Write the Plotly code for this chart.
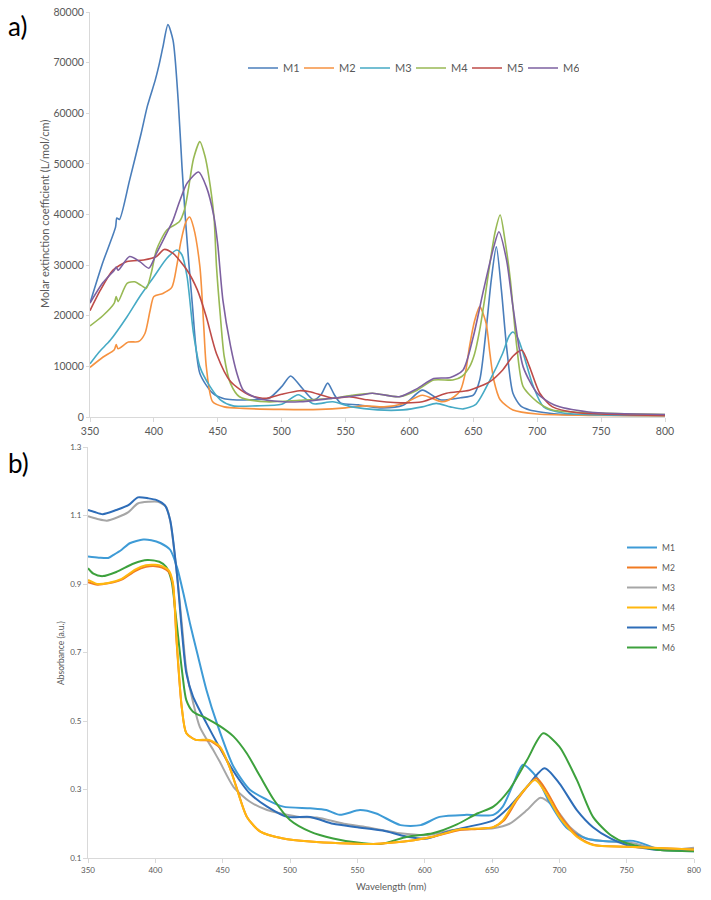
import plotly.graph_objects as go

# ---------------- Panel a) molar extinction coefficient ----------------
a_names = ["M1", "M2", "M3", "M4", "M5", "M6"]
a_colors = ["#4A7EBB", "#F69240", "#46AAC5", "#98B954", "#BE4B48", "#7D60A0"]

a_M1_wl = [350, 360, 370, 371, 373, 381, 390, 395, 401, 404, 407, 411, 415, 419, 422, 425, 430, 436, 446,
           455, 462, 475, 490, 500, 507, 515, 525, 531, 536, 541, 546, 560, 577, 595, 610, 624, 640, 650,
           655, 660, 664, 668, 672, 676, 681, 687, 694, 705, 720, 750, 800]
a_M1 = [22500, 30500, 37500, 39300, 39000, 46800, 56000, 61500, 66500, 69500, 73000, 77500, 74400, 62600,
        49400, 38000, 22500, 8600, 4700, 3600, 3400, 3400, 3700, 6000, 8100, 6000, 3400, 4500, 6700, 4500,
        2800, 2400, 1800, 2300, 5300, 3400, 3800, 4300, 7300, 17200, 27000, 33600, 25000, 13900, 4700,
        2200, 1400, 900, 500, 400, 300]

a_M2_wl = [350, 360, 369, 370.5, 372, 380, 388, 393, 397, 400, 407, 414, 418, 421, 425, 428, 431, 436,
           439, 441, 446, 455, 470, 500, 530, 550, 565, 580, 595, 610, 626, 635, 640, 644, 647, 651, 655,
           660, 663, 666, 671, 681, 700, 750, 800]
a_M2 = [9800, 11800, 13300, 14300, 13500, 14800, 14900, 16500, 21000, 23800, 24400, 25600, 30000, 34500,
        38500, 39500, 37500, 29700, 18000, 10000, 3000, 2000, 1700, 1500, 1500, 1800, 2200, 2000, 2600,
        4300, 3000, 4000, 5300, 9000, 13900, 19000, 21800, 18500, 12500, 7300, 3400, 1400, 600, 300, 200]

a_M3_wl = [350, 357, 366, 379, 389, 400, 410, 418, 422, 426, 431, 436, 444, 452, 462, 480, 500, 513, 525,
           540, 555, 575, 595, 610, 621, 632, 642, 652, 663, 673, 678, 681, 685, 689, 697, 705, 720, 750, 800]
a_M3 = [10500, 12800, 15200, 19800, 23800, 27700, 31300, 33000, 32000, 27700, 16500, 9900, 6000, 3400,
        2200, 2200, 2500, 4400, 2600, 3000, 2000, 1400, 1400, 2000, 2700, 2000, 1600, 2500, 7300, 12600,
        16000, 16800, 15500, 12600, 6000, 2000, 800, 400, 300]

a_M4_wl = [350, 360, 369, 370.5, 372, 379, 385, 390, 394, 398, 402, 410, 420, 424, 427, 431, 436, 440,
           443, 447, 449, 452, 455, 460, 467, 488, 514, 540, 555, 571, 592, 606, 619, 634, 641, 647, 651,
           655, 659, 663, 667, 671, 675, 679, 684, 689, 700, 712, 750, 800]
a_M4 = [18000, 20000, 22500, 23800, 22800, 26400, 26700, 26000, 25400, 28500, 33000, 36900, 38600, 41000,
        45000, 51000, 54400, 51500, 47500, 39600, 29700, 20000, 12000, 6600, 4000, 3000, 3300, 3700, 4300,
        4700, 4000, 5300, 7300, 7300, 8000, 9900, 12500, 17200, 23500, 30400, 36500, 39900, 34500, 27000,
        13900, 6000, 3000, 1400, 800, 500]

a_M5_wl = [350, 358, 368, 379, 392, 402, 408, 415, 426, 434, 441, 449, 460, 475, 488, 500, 514, 522, 540,
           553, 567, 593, 610, 629, 647, 663, 673, 681, 688, 694, 702, 712, 730, 800]
a_M5 = [21000, 25000, 29000, 30700, 31000, 31700, 33100, 32300, 29000, 25100, 19800, 12500, 7000, 4300,
        3700, 4500, 5200, 5000, 3700, 4000, 3400, 2800, 3000, 4700, 5300, 7000, 9300, 12000, 13200, 9900,
        4700, 2000, 900, 300]

a_M6_wl = [350, 360, 369, 370.5, 372, 381, 389, 396, 402, 410, 415, 420, 426, 435, 441, 447, 450, 454, 460,
           465, 470, 481, 501, 514, 540, 561, 571, 592, 606, 619, 632, 642, 650, 658, 666, 670, 676, 681,
           689, 700, 713, 740, 800]
a_M6 = [22500, 26500, 29000, 29600, 29000, 31700, 30700, 29400, 32300, 36300, 38900, 42500, 46200, 48400,
        45500, 39600, 34000, 23100, 14000, 8600, 5300, 3700, 3000, 3000, 3700, 4300, 4700, 4000, 5600,
        7600, 7800, 9300, 15900, 25100, 33600, 36600, 31000, 21800, 9900, 4700, 2400, 1000, 500]

# ---------------- Panel b) absorbance ----------------
b_names = ["M1", "M2", "M3", "M4", "M5", "M6"]
b_colors = ["#3E9BD6", "#F07A22", "#A6A6A6", "#FFB70F", "#2E6DB8", "#3DA13D"]

b_M1_wl = [350, 358, 365, 369, 375, 381, 391, 397, 404, 411, 416, 421, 426, 431, 438, 446, 458, 470, 483,
           495, 515, 527, 537, 552, 564, 582, 597, 611, 631, 651, 658, 666, 673, 683, 693, 705, 720, 738,
           755, 775, 800]
b_M1 = [0.980, 0.977, 0.976, 0.985, 1.000, 1.019, 1.030, 1.028, 1.019, 1.000, 0.950, 0.870, 0.780, 0.700,
        0.590, 0.490, 0.367, 0.300, 0.270, 0.250, 0.245, 0.240, 0.226, 0.240, 0.230, 0.196, 0.196, 0.220,
        0.226, 0.226, 0.250, 0.318, 0.372, 0.337, 0.260, 0.190, 0.157, 0.148, 0.150, 0.125, 0.120]

b_M2_wl = [350, 357, 365, 375, 385, 393, 400, 405, 410, 413, 415.8, 419.6, 423, 430, 440, 448, 455, 460,
           468, 478, 495, 515, 537, 562, 577, 592, 606, 626, 639, 651, 659, 669, 683, 691, 701, 714, 726,
           750, 800]
b_M2 = [0.905, 0.898, 0.902, 0.913, 0.938, 0.950, 0.952, 0.948, 0.935, 0.900, 0.730, 0.540, 0.465, 0.445,
        0.443, 0.422, 0.367, 0.310, 0.220, 0.177, 0.157, 0.148, 0.143, 0.141, 0.145, 0.152, 0.162, 0.182,
        0.185, 0.190, 0.210, 0.272, 0.333, 0.292, 0.222, 0.162, 0.138, 0.133, 0.125]

b_M3_wl = [350, 357, 364, 372, 380, 387, 395, 402, 408, 411, 416, 420, 423, 428, 433, 443, 448, 458, 470,
           483, 507, 520, 540, 557, 582, 602, 621, 640, 651, 663, 676, 686, 696, 708, 720, 738, 755, 775, 800]
b_M3 = [1.098, 1.090, 1.085, 1.095, 1.110, 1.135, 1.140, 1.140, 1.125, 1.085, 0.930, 0.770, 0.650, 0.555,
        0.483, 0.415, 0.380, 0.308, 0.265, 0.240, 0.220, 0.218, 0.200, 0.190, 0.172, 0.167, 0.182, 0.185,
        0.187, 0.200, 0.240, 0.276, 0.250, 0.190, 0.157, 0.148, 0.143, 0.123, 0.130]

b_M4_wl = [350, 357, 365, 375, 385, 393, 400, 405, 410, 413, 415.8, 419.6, 423, 430, 440, 448, 455, 460,
           468, 478, 495, 515, 537, 562, 577, 592, 606, 626, 639, 651, 658, 668, 682, 690, 700, 713, 725,
           750, 800]
b_M4 = [0.912, 0.900, 0.903, 0.915, 0.942, 0.955, 0.956, 0.952, 0.940, 0.905, 0.737, 0.542, 0.464, 0.445,
        0.445, 0.425, 0.367, 0.308, 0.220, 0.177, 0.157, 0.148, 0.143, 0.141, 0.145, 0.152, 0.162, 0.184,
        0.186, 0.190, 0.210, 0.270, 0.328, 0.289, 0.220, 0.162, 0.138, 0.133, 0.125]

b_M5_wl = [350, 355, 361, 371, 380, 387, 395, 401, 407, 411, 416, 420, 423, 428, 438, 453, 462, 470, 483,
           498, 515, 532, 550, 569, 587, 602, 616, 631, 651, 663, 676, 689, 700, 713, 725, 738, 750, 775, 800]
b_M5 = [1.116, 1.110, 1.104, 1.116, 1.130, 1.153, 1.150, 1.145, 1.130, 1.087, 0.930, 0.750, 0.640, 0.571,
        0.493, 0.386, 0.330, 0.289, 0.250, 0.220, 0.220, 0.200, 0.190, 0.180, 0.162, 0.157, 0.175, 0.190,
        0.210, 0.250, 0.308, 0.362, 0.318, 0.240, 0.190, 0.157, 0.138, 0.123, 0.125]

b_M6_wl = [350, 354, 361, 371, 384, 394, 403, 408, 412, 415, 420, 423, 428, 438, 448, 458, 468, 478, 488,
           500, 515, 532, 550, 567, 587, 606, 624, 639, 651, 663, 676, 688, 700, 713, 725, 738, 750, 775, 800]
b_M6 = [0.946, 0.930, 0.923, 0.935, 0.960, 0.970, 0.965, 0.950, 0.910, 0.815, 0.640, 0.561, 0.527, 0.508,
        0.485, 0.455, 0.405, 0.337, 0.270, 0.211, 0.177, 0.157, 0.145, 0.141, 0.162, 0.172, 0.198, 0.230,
        0.250, 0.300, 0.386, 0.464, 0.425, 0.328, 0.220, 0.167, 0.143, 0.123, 0.120]

x_ticks = [350, 400, 450, 500, 550, 600, 650, 700, 750, 800]
a_y_ticks = [0, 10000, 20000, 30000, 40000, 50000, 60000, 70000, 80000]
a_y_labels = ["0", "10000", "20000", "30000", "40000", "50000", "60000", "70000", "80000"]
b_y_ticks = [0.1, 0.3, 0.5, 0.7, 0.9, 1.1, 1.3]
b_y_labels = ["0.1", "0.3", "0.5", "0.7", "0.9", "1.1", "1.3"]

W, H = 711, 900
GREY = "#595959"
AXC = "#D9D9D9"
FONT = "Lato, Open Sans, sans-serif"

a_data = [(a_M1_wl, a_M1), (a_M2_wl, a_M2), (a_M3_wl, a_M3), (a_M4_wl, a_M4), (a_M5_wl, a_M5), (a_M6_wl, a_M6)]
b_data = [(b_M1_wl, b_M1), (b_M2_wl, b_M2), (b_M3_wl, b_M3), (b_M4_wl, b_M4), (b_M5_wl, b_M5), (b_M6_wl, b_M6)]

fig = go.Figure()
for i, (wl, v) in enumerate(a_data):
    fig.add_trace(go.Scatter(x=wl, y=v, name=a_names[i], mode="lines",
                             line=dict(color=a_colors[i], width=1.6, shape="spline", smoothing=0.7),
                             xaxis="x", yaxis="y", legend="legend", legendgroup="a" + a_names[i]))
# draw order for b so that yellow lies above orange
b_order = [2, 0, 4, 5, 1, 3]
for i in b_order:
    wl, v = b_data[i]
    fig.add_trace(go.Scatter(x=wl, y=v, name=b_names[i], mode="lines",
                             line=dict(color=b_colors[i], width=2, shape="spline", smoothing=0.7),
                             xaxis="x2", yaxis="y2", legend="legend2", legendgroup="b" + b_names[i],
                             legendrank=i + 1))

def px_x(p):
    return p / W

def px_y(p):
    return 1 - p / H

axis_common = dict(showline=True, linecolor=AXC, linewidth=1, ticks="outside", tickcolor=AXC,
                   showgrid=False, zeroline=False, automargin=False)

fig.update_layout(
    template="none",
    width=W, height=H,
    margin=dict(l=0, r=0, t=0, b=0, pad=0, autoexpand=False),
    paper_bgcolor="white", plot_bgcolor="white",
    font=dict(family=FONT, color=GREY),
    xaxis=dict(domain=[px_x(90), px_x(665)], range=[350, 800], tickvals=x_ticks, ticklen=4,
               tickfont=dict(size=10.5, color=GREY), anchor="y", **axis_common),
    yaxis=dict(domain=[px_y(417), px_y(12)], range=[0, 80000], tickvals=a_y_ticks, ticktext=a_y_labels,
               ticklen=3, tickfont=dict(size=10.5, color=GREY), anchor="x", **axis_common),
    xaxis2=dict(domain=[px_x(88), px_x(694)], range=[350, 800], tickvals=x_ticks, ticklen=4,
                tickfont=dict(size=8, color=GREY), anchor="y2", **axis_common),
    yaxis2=dict(domain=[px_y(858), px_y(447)], range=[0.1, 1.3], tickvals=b_y_ticks, ticktext=b_y_labels,
                ticklen=4, tickfont=dict(size=8, color=GREY), anchor="x2", **axis_common),
    legend=dict(orientation="h", x=px_x(243), y=px_y(68), xanchor="left", yanchor="middle",
                font=dict(size=11, color=GREY), bgcolor="rgba(0,0,0,0)", borderwidth=0,
                entrywidth=11, entrywidthmode="pixels", traceorder="normal"),
    legend2=dict(orientation="v", x=px_x(622), y=px_y(533), xanchor="left", yanchor="top",
                 font=dict(size=8.5, color=GREY), bgcolor="rgba(0,0,0,0)", borderwidth=0,
                 traceorder="grouped", tracegroupgap=1),
    showlegend=True,
    annotations=[
        dict(text="a)", x=px_x(6), y=px_y(26), xref="paper", yref="paper", xanchor="left",
             yanchor="middle", showarrow=False, font=dict(size=26, color="black", family=FONT)),
        dict(text="b)", x=px_x(6), y=px_y(463), xref="paper", yref="paper", xanchor="left",
             yanchor="middle", showarrow=False, font=dict(size=26, color="black", family=FONT)),
        dict(text="Molar extinction coefficient (L/mol/cm)", x=px_x(45), y=px_y(214), xref="paper",
             yref="paper", xanchor="center", yanchor="middle", textangle=-90, showarrow=False,
             font=dict(size=11, color=GREY)),
        dict(text="Absorbance (a.u.)", x=px_x(61), y=px_y(653), xref="paper", yref="paper",
             xanchor="center", yanchor="middle", textangle=-90, showarrow=False,
             font=dict(size=8.5, color=GREY)),
        dict(text="Wavelength (nm)", x=px_x(391), y=px_y(886), xref="paper", yref="paper",
             xanchor="center", yanchor="middle", showarrow=False, font=dict(size=9.5, color=GREY)),
    ],
)

fig.write_html("out.html", config={"displayModeBar": False},
               post_script="document.body.style.margin='0';document.body.style.overflow='hidden';")
